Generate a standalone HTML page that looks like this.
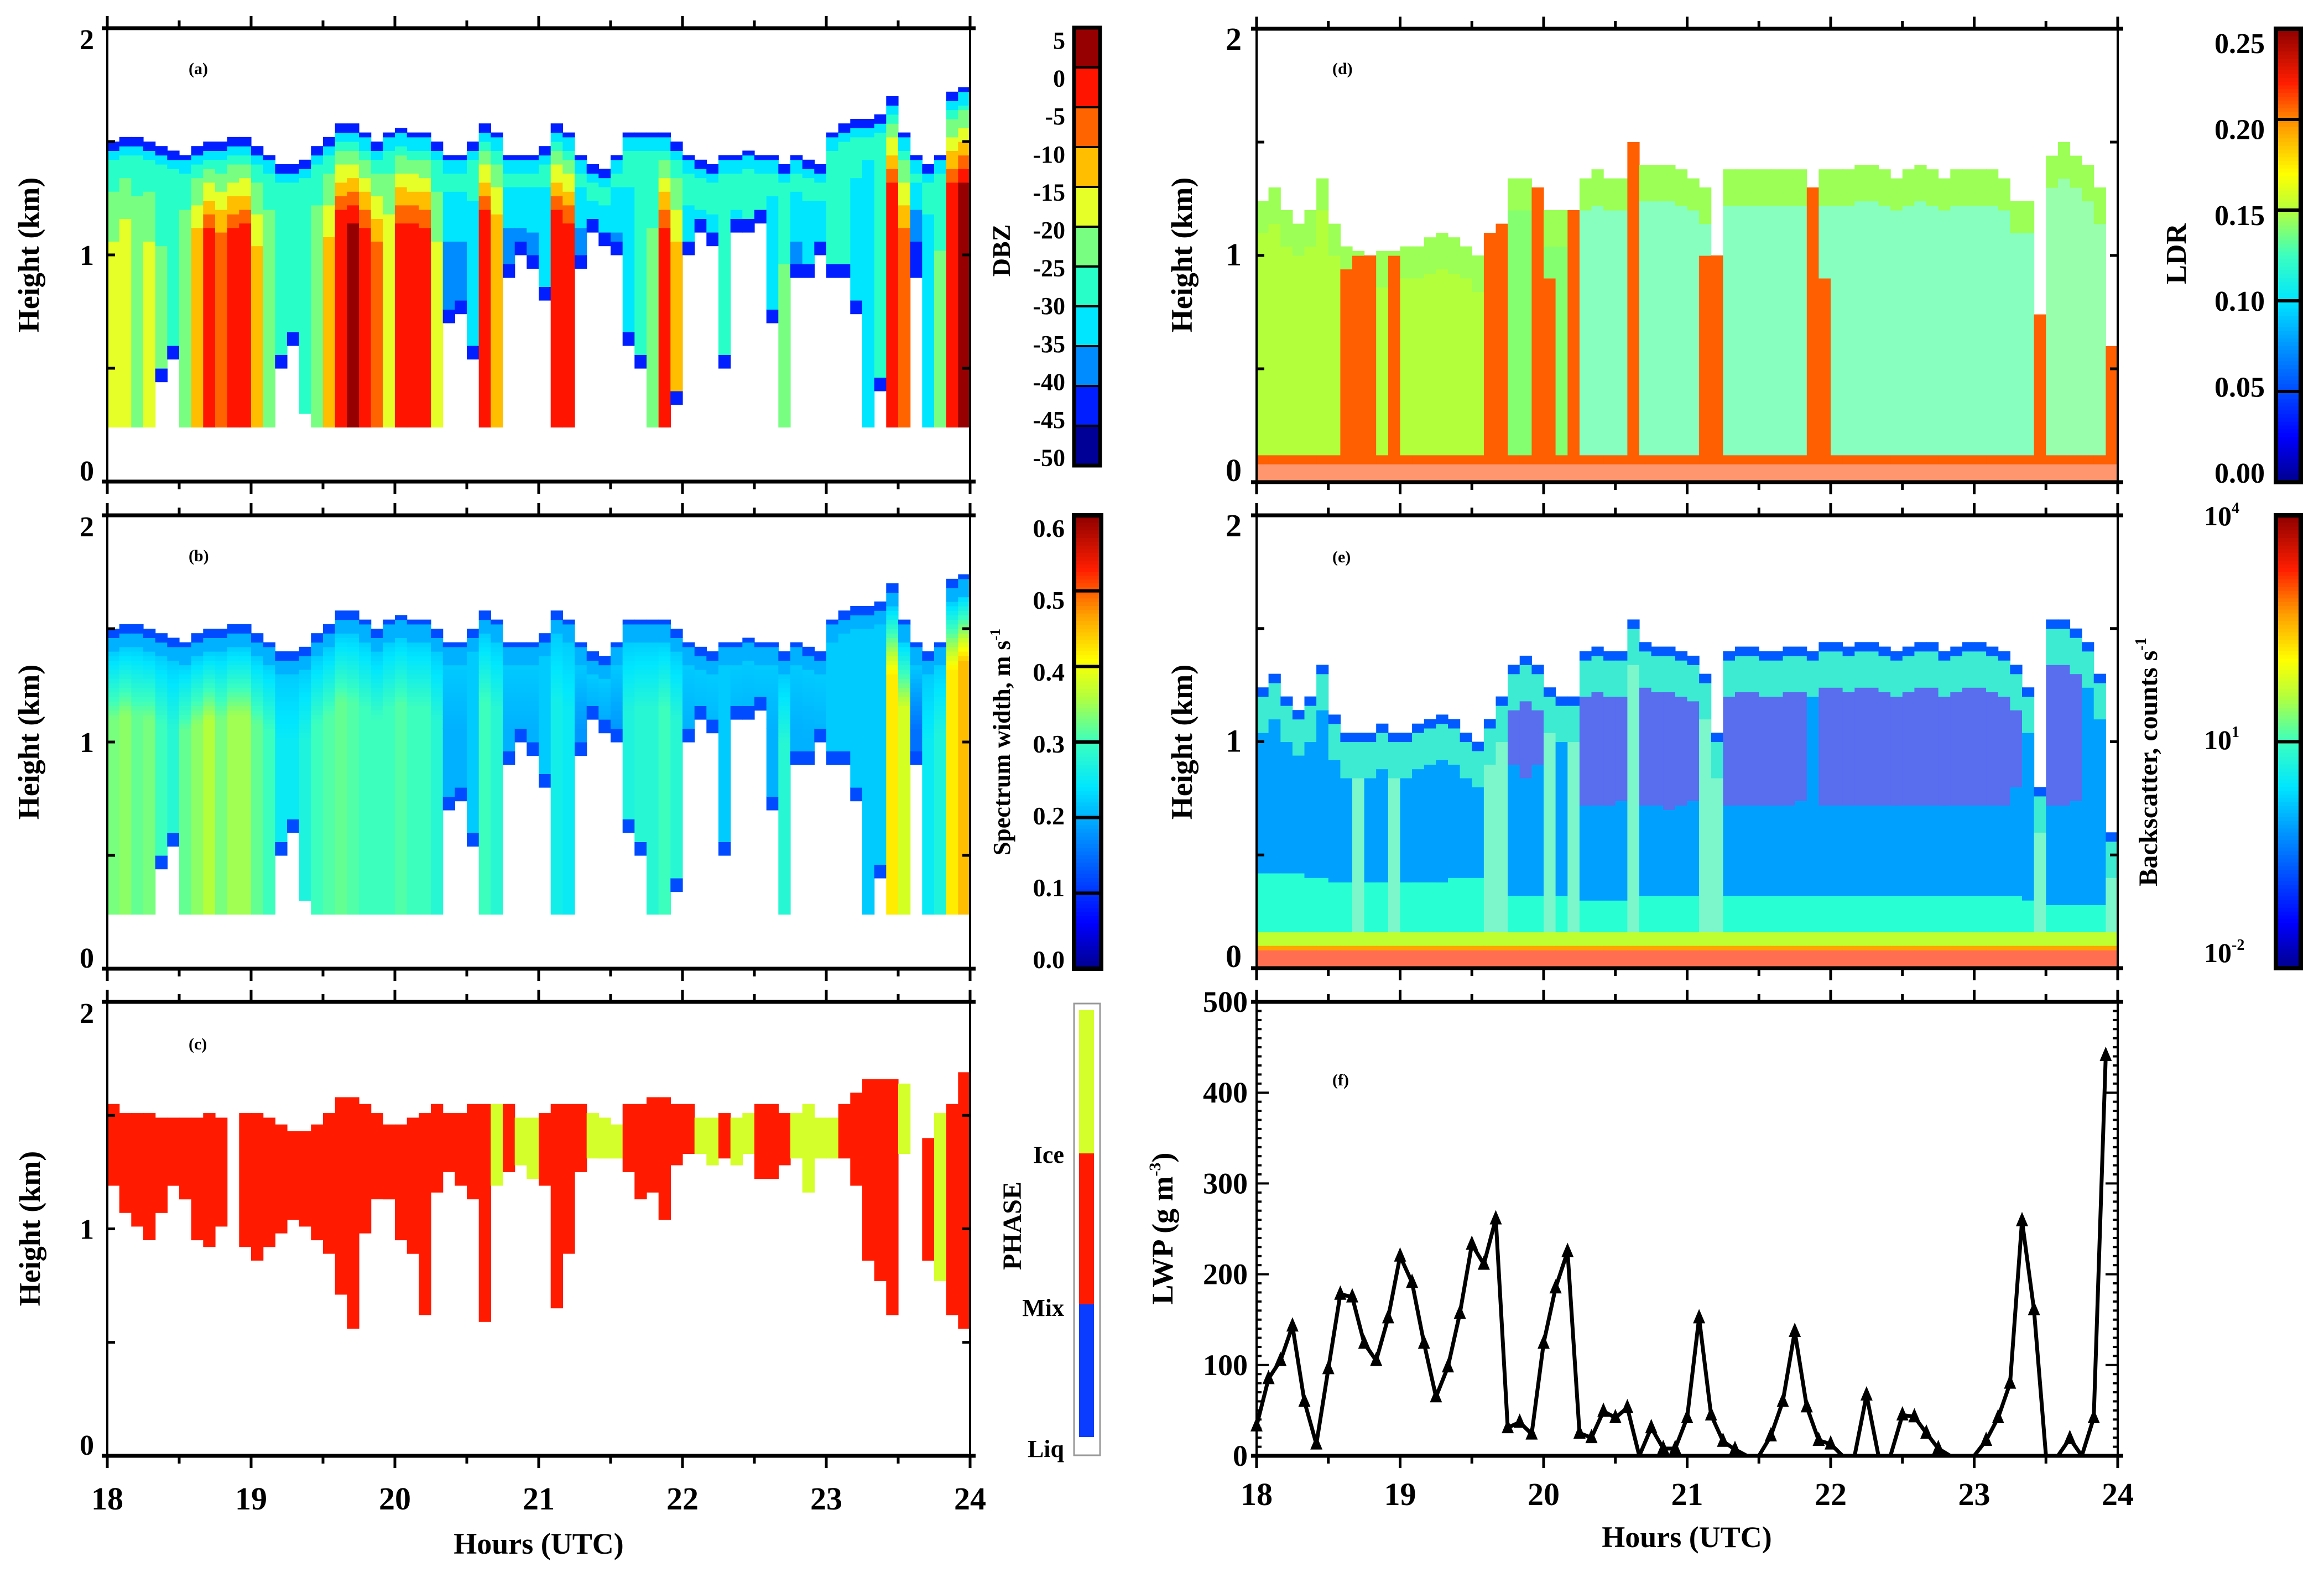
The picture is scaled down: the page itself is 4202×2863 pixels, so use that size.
<!DOCTYPE html>
<html><head><meta charset="utf-8"><style>
body{margin:0;background:#fff}
svg text{font-family:"Liberation Serif",serif;font-weight:bold;fill:#000}
</style></head><body>
<svg id="fig" width="4202" height="2858" xmlns="http://www.w3.org/2000/svg">
<rect x="0" y="0" width="4202" height="2858" fill="#fff"/>
<g id="marks"></g>
<g id="axes"></g>
<text x="341" y="134" font-size="30">(a)</text>
<text x="341" y="1015" font-size="30">(b)</text>
<text x="341" y="1898" font-size="30">(c)</text>
<text x="2409" y="134" font-size="30">(d)</text>
<text x="2409" y="1017" font-size="30">(e)</text>
<text x="2409" y="1963" font-size="30">(f)</text>

<text transform="translate(70,461) rotate(-90)" text-anchor="middle" font-size="54">Height (km)</text>
<text transform="translate(70,1342) rotate(-90)" text-anchor="middle" font-size="54">Height (km)</text>
<text transform="translate(72,2222) rotate(-90)" text-anchor="middle" font-size="54">Height (km)</text>
<text transform="translate(2155,461) rotate(-90)" text-anchor="middle" font-size="54">Height (km)</text>
<text transform="translate(2155,1342) rotate(-90)" text-anchor="middle" font-size="54">Height (km)</text>
<text transform="translate(2120,2222) rotate(-90)" text-anchor="middle" font-size="54">LWP (g m<tspan font-size="30" dy="-22">-3</tspan><tspan dy="22">)</tspan></text>

<text transform="translate(1826,453) rotate(-90)" text-anchor="middle" font-size="46">DBZ</text>
<text transform="translate(1826,1342) rotate(-90)" text-anchor="middle" font-size="44">Spectrum width, m s<tspan font-size="26" dy="-18">-1</tspan></text>
<text transform="translate(1846,2217) rotate(-90)" text-anchor="middle" font-size="48">PHASE</text>
<text transform="translate(3952,459) rotate(-90)" text-anchor="middle" font-size="52">LDR</text>
<text transform="translate(3900,1378) rotate(-90)" text-anchor="middle" font-size="48">Backscatter, counts s<tspan font-size="28" dy="-20">-1</tspan></text>

<text x="1924" y="2103" text-anchor="end" font-size="44">Ice</text>
<text x="1924" y="2380" text-anchor="end" font-size="44">Mix</text>
<text x="1924" y="2635" text-anchor="end" font-size="44">Liq</text>

<text x="974" y="2810" text-anchor="middle" font-size="54">Hours (UTC)</text>
<text x="3050" y="2798" text-anchor="middle" font-size="54">Hours (UTC)</text>

<text x="3985" y="950" font-size="50">10<tspan font-size="28" dy="-22">4</tspan></text>
<text x="3985" y="1355" font-size="50">10<tspan font-size="28" dy="-22">1</tspan></text>
<text x="3985" y="1740" font-size="50">10<tspan font-size="28" dy="-22">-2</tspan></text>
</svg>
<script>
const hourTicks=[18,19,20,21,22,23,24];
const kmTicks=[0,1,2];
const dbzTicks=[5,0,-5,-10,-15,-20,-25,-30,-35,-40,-45,-50];
const swTicks=["0.6","0.5","0.4","0.3","0.2","0.1","0.0"];
const ldrTicks=["0.25","0.20","0.15","0.10","0.05","0.00"];
const lwpTicks=[0,100,200,300,400,500];
const cloudTop=[1.50,1.52,1.52,1.50,1.48,1.46,1.45,1.48,1.50,1.50,1.52,1.52,1.48,1.45,1.40,1.40,1.42,1.48,1.52,1.58,1.58,1.55,1.50,1.55,1.57,1.55,1.55,1.50,1.45,1.45,1.50,1.58,1.55,1.45,1.45,1.45,1.48,1.58,1.55,1.45,1.40,1.38,1.45,1.55,1.55,1.55,1.55,1.50,1.45,1.42,1.40,1.45,1.45,1.47,1.45,1.45,1.40,1.45,1.42,1.40,1.55,1.58,1.60,1.60,1.62,1.70,1.55,1.45,1.40,1.45,1.72,1.75];
const cloudBase=[0.23,0.23,0.23,0.23,0.45,0.55,0.23,0.23,0.23,0.23,0.23,0.23,0.23,0.23,0.5,0.6,0.3,0.23,0.23,0.23,0.23,0.23,0.23,0.23,0.23,0.23,0.23,0.23,0.7,0.75,0.55,0.23,0.23,0.9,1.0,0.95,0.8,0.23,0.23,0.95,1.1,1.05,1.0,0.6,0.5,0.23,0.23,0.35,1.0,1.1,1.05,0.5,1.1,1.1,1.15,0.7,0.23,0.9,0.9,1.0,0.9,0.9,0.75,0.23,0.4,0.23,0.23,0.9,0.23,0.23,0.23,0.23];
const dbzCore=[-20,-18,-22,-20,-25,-30,-22,-12,-2,-8,-3,-2,-15,-22,-30,-30,-28,-22,-15,-2,0,-5,-10,-18,-5,-3,-5,-20,-36,-36,-32,-2,-12,-38,-38,-37,-35,-2,-3,-38,-38,-38,-37,-32,-30,-25,-5,-15,-33,-33,-33,-30,-32,-30,-32,-35,-25,-36,-35,-36,-30,-28,-32,-35,-30,-2,-10,-42,-33,-25,-3,0];
const swCore=[0.33,0.34,0.32,0.33,0.30,0.28,0.32,0.34,0.36,0.33,0.35,0.35,0.32,0.30,0.25,0.25,0.27,0.30,0.31,0.32,0.31,0.30,0.30,0.30,0.31,0.30,0.30,0.28,0.20,0.20,0.22,0.30,0.28,0.20,0.20,0.20,0.22,0.26,0.25,0.18,0.18,0.18,0.18,0.27,0.28,0.28,0.30,0.28,0.20,0.20,0.20,0.22,0.20,0.20,0.20,0.20,0.28,0.20,0.20,0.20,0.22,0.22,0.22,0.22,0.22,0.42,0.38,0.15,0.25,0.27,0.42,0.45];
const phaseTop=[1.55,1.51,1.51,1.51,1.49,1.49,1.49,1.49,1.51,1.49,0,1.51,1.51,1.49,1.46,1.43,1.43,1.46,1.51,1.58,1.58,1.55,1.51,1.46,1.46,1.49,1.51,1.55,1.51,1.51,1.55,1.55,1.55,1.55,1.49,1.49,1.51,1.55,1.55,1.55,1.51,1.49,1.46,1.55,1.55,1.58,1.58,1.55,1.55,1.49,1.49,1.51,1.49,1.51,1.55,1.55,1.51,1.51,1.55,1.49,1.49,1.55,1.60,1.66,1.66,1.66,1.64,0,1.40,1.51,1.55,1.69];
const phaseBase=[1.19,1.07,1.01,0.95,1.07,1.19,1.13,0.95,0.92,1.01,0,0.92,0.86,0.92,0.98,1.04,1.01,0.95,0.89,0.71,0.56,0.98,1.13,1.13,0.95,0.89,0.62,1.16,1.25,1.19,1.13,0.59,1.19,1.25,1.28,1.22,1.19,0.65,0.89,1.25,1.31,1.31,1.31,1.25,1.13,1.16,1.04,1.28,1.33,1.33,1.28,1.31,1.28,1.33,1.22,1.22,1.28,1.31,1.16,1.31,1.31,1.31,1.19,0.86,0.77,0.62,1.33,0,0.86,0.77,0.62,0.56];
const phaseKind=[2,2,2,2,2,2,2,2,2,2,0,2,2,2,2,2,2,2,2,2,2,2,2,2,2,2,2,2,2,2,2,2,3,2,3,3,2,2,2,2,3,3,3,2,2,2,2,2,2,3,3,2,3,3,2,2,2,3,3,3,3,2,2,2,2,2,3,0,2,3,2,2];
const ldrTop=[1.25,1.30,1.20,1.15,1.20,1.35,1.15,1.05,1.02,1.00,1.02,1.03,1.05,1.05,1.08,1.10,1.08,1.05,1.00,1.10,1.15,1.35,1.35,1.30,1.20,1.20,1.20,1.35,1.38,1.35,1.35,1.50,1.40,1.40,1.40,1.38,1.35,1.30,1.00,1.38,1.38,1.38,1.38,1.38,1.38,1.38,1.30,1.38,1.38,1.38,1.40,1.40,1.38,1.35,1.38,1.40,1.38,1.35,1.38,1.38,1.38,1.38,1.35,1.25,1.25,0.75,1.45,1.50,1.45,1.40,1.30,0.60];
const ldrShaft=[0,0,0,0,0,0,0,0.95,1.0,1.0,0,1.0,0,0,0,0,0,0,0,1.1,1.15,0,0,1.3,0.9,0,1.2,0,0,0,0,1.5,0,0,0,0,0,1.0,1.0,0,0,0,0,0,0,0,1.3,0.9,0,0,0,0,0,0,0,0,0,0,0,0,0,0,0,0,0,0.75,0,0,0,0,0,0.6];
const ldrBg=[0.15,0.15,0.15,0.15,0.15,0.15,0.15,0.15,0.15,0.15,0.15,0.15,0.15,0.15,0.15,0.15,0.15,0.15,0.15,0.145,0.145,0.14,0.14,0.14,0.14,0.14,0.14,0.13,0.13,0.13,0.13,0.13,0.13,0.13,0.13,0.13,0.13,0.13,0.13,0.13,0.13,0.13,0.13,0.13,0.13,0.13,0.13,0.13,0.13,0.13,0.13,0.13,0.13,0.13,0.13,0.13,0.13,0.13,0.13,0.13,0.13,0.13,0.13,0.13,0.13,0.13,0.135,0.135,0.135,0.135,0.135,0.135];
const bsTop=[1.25,1.30,1.20,1.15,1.20,1.35,1.12,1.05,1.05,1.05,1.08,1.05,1.05,1.08,1.10,1.12,1.10,1.05,1.00,1.10,1.20,1.35,1.38,1.35,1.25,1.20,1.20,1.40,1.42,1.40,1.40,1.55,1.45,1.42,1.42,1.40,1.38,1.30,1.05,1.40,1.42,1.42,1.40,1.40,1.42,1.42,1.40,1.45,1.45,1.42,1.45,1.45,1.42,1.40,1.42,1.45,1.45,1.40,1.42,1.45,1.45,1.42,1.40,1.35,1.25,0.80,1.55,1.55,1.50,1.45,1.30,0.60];
const bsAqua=[0.42,0.42,0.42,0.42,0.40,0.40,0.38,0.38,0.38,0.38,0.38,0.38,0.38,0.38,0.38,0.38,0.40,0.40,0.40,0.30,0.30,0.32,0.32,0.32,0.32,0.32,0.32,0.30,0.30,0.30,0.30,0.30,0.33,0.33,0.33,0.33,0.33,0.30,0.30,0.33,0.33,0.33,0.33,0.33,0.33,0.33,0.33,0.33,0.33,0.33,0.33,0.33,0.33,0.33,0.33,0.33,0.33,0.33,0.33,0.33,0.33,0.33,0.33,0.33,0.30,0.30,0.28,0.28,0.28,0.28,0.28,0.28];
const bsDark=[0,0,0,0,0,0,0,0,0,0,0,0,0,0,0,0,0,0,0,0,0,0.9,0.85,0.9,0,0,0,0.72,0.72,0.72,0.75,0,0.72,0.72,0.7,0.72,0.75,0,0,0.72,0.72,0.72,0.72,0.72,0.72,0.75,0,0.72,0.72,0.72,0.72,0.72,0.72,0.72,0.72,0.72,0.72,0.72,0.72,0.72,0.72,0.72,0.72,0.8,0,0,0.72,0.72,0.75,0,0,0];
const bsShaft=[0,0,0,0,0,0,0,0,1,0,0,1,0,0,0,0,0,0,0,1,1,0,0,0,1,0,1,0,0,0,0,1,0,0,0,0,0,1,1,0,0,0,0,0,0,0,0,0,0,0,0,0,0,0,0,0,0,0,0,0,0,0,0,0,0,1,0,0,0,0,0,1];
const lwp=[33,85,105,143,60,13,96,178,175,124,105,152,220,191,124,65,98,157,233,211,261,31,37,24,124,185,225,25,20,49,42,53,0,31,8,8,42,152,45,16,7,0,0,22,60,137,54,17,13,0,0,67,0,0,45,43,25,8,0,0,0,17,42,80,259,161,0,0,19,0,42,441];

const NS="http://www.w3.org/2000/svg";
const marks=document.getElementById('marks'), axes=document.getElementById('axes');
function mk(tag,attrs,parent){const e=document.createElementNS(NS,tag);for(const k in attrs)e.setAttribute(k,attrs[k]);(parent||marks).appendChild(e);return e;}
const P={
 a:{x0:194,x1:1754,y0:51,y1:871,ymax:2},
 b:{x0:194,x1:1754,y0:932,y1:1752,ymax:2},
 c:{x0:194,x1:1754,y0:1812,y1:2633,ymax:2},
 d:{x0:2272,x1:3829,y0:52,y1:872,ymax:2},
 e:{x0:2272,x1:3829,y0:932,y1:1751,ymax:2},
 f:{x0:2272,x1:3829,y0:1812,y1:2633,ymax:500}
};
function sx(p,t){return p.x0+(t-18)/6*(p.x1-p.x0);}
function sy(p,v){return p.y1-v/p.ymax*(p.y1-p.y0);}
const JET=[[0,[0,0,140]],[0.1,[0,0,255]],[0.3,[0,150,255]],[0.4,[0,230,255]],[0.5,[60,255,190]],[0.6,[180,255,60]],[0.68,[255,255,0]],[0.78,[255,160,0]],[0.88,[255,30,0]],[1,[140,0,0]]];
function jet(v){v=Math.max(0,Math.min(1,v));for(let k=1;k<JET.length;k++){if(v<=JET[k][0]){const a=JET[k-1],b=JET[k];const f=(v-a[0])/(b[0]-a[0]);return a[1].map((c,j)=>Math.round(c+(b[1][j]-c)*f));}}return JET[JET.length-1][1];}
function rgb(c){return 'rgb('+c[0]+','+c[1]+','+c[2]+')';}
function mixW(c,d){return c.map(x=>Math.round(x*d+255*(1-d)));}
const DBZBANDS=[[150,0,0],[255,20,0],[255,100,0],[255,190,0],[230,255,40],[120,255,130],[40,255,200],[0,230,255],[0,140,255],[0,30,255],[0,0,150]];
function dbzColor(v){let k=Math.floor((v+50)/5);k=Math.max(0,Math.min(10,k));return DBZBANDS[10-k];}

function drawColumns(p,n,colorAt,name){
 const g=mk('g',{});
 
 
 const dh=0.02;
 for(let i=0;i<n;i++){
  const xa=sx(p,18+i/12), xb=sx(p,18+(i+1)/12);
  let runStart=null,runCol=null;
  for(let h=0;h<=p.ymax+1e-9;h+=dh){
   const c=colorAt(i,h+dh/2);
   const key=c?rgb(c):null;
   if(key!==runCol){
    if(runCol){const r=mk('rect',{x:xa.toFixed(1),y:sy(p,h).toFixed(1),width:(xb-xa+0.6).toFixed(1),height:(sy(p,runStart)-sy(p,h)+0.6).toFixed(1),fill:runCol},g);
     
     }
    runStart=h;runCol=key;
   }
  }
  if(runCol){const r=mk('rect',{x:xa.toFixed(1),y:sy(p,p.ymax).toFixed(1),width:(xb-xa+0.6).toFixed(1),height:(sy(p,runStart)-sy(p,p.ymax)).toFixed(1),fill:runCol},g);
   
   }
 }
}

drawColumns(P.a,72,(i,h)=>{
 const top=cloudTop[i],base=cloudBase[i],core=dbzCore[i];
 if(h<base||h>top)return null;
 const d=top-h;let c;
 if(d<0.03)c=-42;else if(d<0.08)c=-33;
 else{const f=Math.min(1,(d-0.08)/0.35);c=-28+(core+28)*f;}
 if(base>0.3&&h-base<0.06)c=-42;
 return dbzColor(c);
},'dbz-column');
drawColumns(P.b,72,(i,h)=>{
 const top=cloudTop[i],base=cloudBase[i],core=swCore[i];
 if(h<base||h>top)return null;
 const d=top-h;let c;
 if(d<0.03)c=0.12;else if(d<0.1)c=0.2;
 else{const f=Math.min(1,(d-0.1)/0.3);c=0.22+(core-0.22)*f;}
 if(base>0.3&&h-base<0.06)c=0.12;
 return jet(c/0.6);
},'spectrum-width-column');
(function(){
 const p=P.c;const cols={2:'#ff1a00',3:'#d4ff2a'};
 for(let i=0;i<72;i++){
  if(!phaseKind[i])continue;
  const xa=sx(p,18+i/12),xb=sx(p,18+(i+1)/12);
  const r=mk('rect',{x:xa.toFixed(1),y:sy(p,phaseTop[i]).toFixed(1),width:(xb-xa+0.6).toFixed(1),height:(sy(p,phaseBase[i])-sy(p,phaseTop[i])).toFixed(1),fill:cols[phaseKind[i]]});
  
  
 }
})();
drawColumns(P.d,72,(i,h)=>{
 if(h<0.07)return [255,150,110];
 if(h<0.12)return [255,95,0];
 if(ldrShaft[i]>0&&h<=ldrShaft[i])return [255,95,0];
 const top=ldrTop[i];if(h>top)return null;
 const d=top-h;
 if(d<0.15)return jet(0.145/0.25);
 const dens=ldrBg[i]<0.14?0.7:1;
 return mixW(jet(ldrBg[i]/0.25),dens);
},'ldr-column');
drawColumns(P.e,72,(i,h)=>{
 if(h<0.07)return [255,110,80];
 if(h<0.1)return [255,165,0];
 if(h<0.17)return [190,255,50];
 const top=bsTop[i];if(h>top)return null;
 const d=top-h;
 if(d<0.04)return [0,90,255];
 if(d<0.2)return [60,235,210];
 if(bsShaft[i])return mixW([90,245,190],0.8);
 if(h<bsAqua[i])return [40,255,210];
 if(bsDark[i]>0&&h>bsDark[i])return mixW([0,30,230],0.65);
 return [0,160,255];
},'backscatter-column');
(function(){
 const p=P.f;let pts=[];
 lwp.forEach((v,i)=>pts.push(sx(p,18+i/12).toFixed(1)+','+sy(p,v).toFixed(1)));
 const l=mk('polyline',{points:pts.join(' '),fill:'none',stroke:'#000','stroke-width':7,'stroke-linejoin':'round'});
 
 
 lwp.forEach((v,i)=>{
  if(v<=0)return;
  const x=sx(p,18+i/12),y=sy(p,v);
  const t=mk('polygon',{points:`${x},${y-16} ${x-11},${y+10} ${x+11},${y+10}`,fill:'#000'});
  
  
 });
})();

function frame(p,name){
 const r=mk('rect',{x:p.x0,y:p.y0,width:p.x1-p.x0,height:p.y1-p.y0,fill:'none',stroke:'#000','stroke-width':4},axes);
 
 
 mk('line',{x1:p.x0-10,x2:p.x1+10,y1:p.y0,y2:p.y0,stroke:'#000','stroke-width':7},axes);
 mk('line',{x1:p.x0-10,x2:p.x1+10,y1:p.y1,y2:p.y1,stroke:'#000','stroke-width':7},axes);
 for(let t=18;t<=24.001;t+=0.5){
  const x=sx(p,t),L=(Math.abs(t-Math.round(t))<0.01)?22:14;
  mk('line',{x1:x,x2:x,y1:p.y0,y2:p.y0-L,stroke:'#000','stroke-width':5},axes);
  mk('line',{x1:x,x2:x,y1:p.y1,y2:p.y1+L,stroke:'#000','stroke-width':5},axes);
 }
}
function heightAxis(p,lx,fs,name){
 [0.5,1,1.5].forEach(v=>{const y=sy(p,v);
  mk('line',{x1:p.x0,x2:p.x0+14,y1:y,y2:y,stroke:'#000','stroke-width':5},axes);
  mk('line',{x1:p.x1,x2:p.x1-14,y1:y,y2:y,stroke:'#000','stroke-width':5},axes);});
 kmTicks.forEach(v=>{
  const t=mk('text',{x:lx,y:sy(p,v)+(v===2?38:v===0?-2:18),'text-anchor':'end','font-size':fs},axes);
  t.textContent=v;
  
  
 });
}
function hourLabels(p,y,name){
 hourTicks.forEach(h=>{
  const t=mk('text',{x:sx(p,h),y:y,'text-anchor':'middle','font-size':58},axes);
  t.textContent=h;
  
  
 });
}
frame(P.a,'plot-frame-a');frame(P.b,'plot-frame-b');frame(P.c,'plot-frame-c');
frame(P.d,'plot-frame-d');frame(P.e,'plot-frame-e');frame(P.f,'plot-frame-f');
heightAxis(P.a,170,52,'height-a');heightAxis(P.b,170,52,'height-b');heightAxis(P.c,170,52,'height-c');
heightAxis(P.d,2245,58,'height-d');heightAxis(P.e,2245,58,'height-e');
hourLabels(P.c,2730,'hour-left');hourLabels(P.f,2722,'hour-right');
(function(){const p=P.f;
 for(let v=0;v<=500;v+=10){const y=sy(p,v),L=(v%100===0)?22:9;
  mk('line',{x1:p.x0,x2:p.x0+L,y1:y,y2:y,stroke:'#000','stroke-width':4},axes);
  mk('line',{x1:p.x1,x2:p.x1-L,y1:y,y2:y,stroke:'#000','stroke-width':4},axes);}
 lwpTicks.forEach(v=>{const t=mk('text',{x:2256,y:sy(p,v)+18,'text-anchor':'end','font-size':54},axes);
  t.textContent=v;
  
  });
})();
(function(){
 const x=1942,w=47,y0=50,y1=842,bh=(y1-y0)/11;
 DBZBANDS.forEach((c,k)=>{mk('rect',{x:x,y:y0+k*bh,width:w,height:bh,fill:rgb(c),stroke:'#000','stroke-width':4},axes);});
 const cb=mk('rect',{x:x,y:y0,width:w,height:y1-y0,fill:'none',stroke:'#000','stroke-width':7},axes);
 
 
 dbzTicks.forEach((v,k)=>{const t=mk('text',{x:1926,y:73+k*68.6+15,'text-anchor':'end','font-size':44},axes);t.textContent=v;
  
  });
})();
function gradBar(x,w,y0,y1,fn,nb,name){
 const n=120;const hh=(y1-y0)/n;
 for(let k=0;k<n;k++){mk('rect',{x:x,y:y0+k*hh,width:w,height:hh+0.8,fill:rgb(fn(1-(k+0.5)/n))},axes);}
 for(let k=1;k<nb;k++){const y=y0+k*(y1-y0)/nb;mk('line',{x1:x,x2:x+w,y1:y,y2:y,stroke:'#000','stroke-width':6},axes);}
 const r=mk('rect',{x:x,y:y0,width:w,height:y1-y0,fill:'none',stroke:'#000','stroke-width':8},axes);
 
 
}
gradBar(1942,49,932,1752,jet,6,'spectrum-width-colorbar');
swTicks.forEach((v,k)=>{const t=mk('text',{x:1925,y:955+k*130+16,'text-anchor':'end','font-size':46},axes);t.textContent=v;
 
 });
gradBar(4115,45,52,872,jet,5,'ldr-colorbar');
ldrTicks.forEach((v,k)=>{const t=mk('text',{x:4095,y:78+k*155.4+18,'text-anchor':'end','font-size':52},axes);t.textContent=v;
 
 });
gradBar(4115,45,932,1751,jet,2,'backscatter-colorbar');
(function(){
 const x=1942,w=47;
 const r=mk('rect',{x:x,y:1815,width:w,height:817,fill:'#fff',stroke:'#999','stroke-width':3},axes);
 
 
 mk('rect',{x:1951,y:1827,width:27,height:259,fill:'#d4ff2a'},axes);
 mk('rect',{x:1951,y:2086,width:27,height:273,fill:'#ff1a00'},axes);
 mk('rect',{x:1951,y:2359,width:27,height:240,fill:'#0a3cff'},axes);
})();
</script>
</body></html>
